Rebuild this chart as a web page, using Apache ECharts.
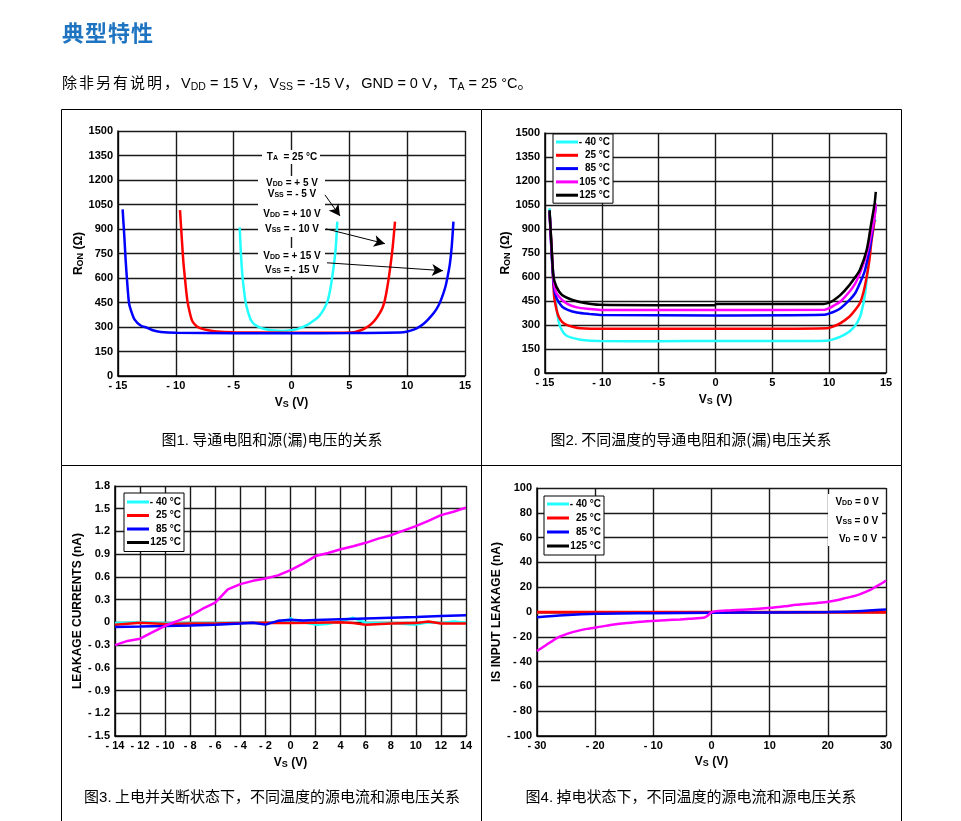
<!DOCTYPE html>
<html><head><meta charset="utf-8">
<script src="https://cdn.jsdelivr.net/npm/echarts@6/dist/echarts.min.js"></script>
<style>
html,body{margin:0;padding:0;background:#fff;}
#chart{position:absolute;left:0;top:0;width:961px;height:821px;}
.t{position:absolute;white-space:nowrap;}
#title{left:62px;top:18px;font:bold 22px 'Noto Sans CJK SC';color:#1F74C2;letter-spacing:1px;line-height:26px;}
#sub{left:62px;top:71px;font:15px 'Noto Sans CJK SC';color:#000;line-height:22px;letter-spacing:2px;}
#sub .l{font-family:'Liberation Sans',Arial,sans-serif;font-size:14.5px;letter-spacing:0;}
#sub sub{font-size:10.5px;vertical-align:-2px;line-height:0;}
.cap{font:15px 'Noto Sans CJK SC';font-weight:400;color:#000;line-height:20px;transform:translateX(-50%);}
.cap .l{font-family:'Liberation Sans Narrow','Liberation Sans',Arial,sans-serif;}
</style></head>
<body>
<div id="chart"></div>
<div class="t" id="title">典型特性</div>
<div class="t" id="sub">除非另有说明，<span class="l">V<sub>DD</sub> = 15 V</span>，<span class="l">V<sub>SS</sub> = -15 V</span>，<span class="l">GND = 0 V</span>，<span class="l">T<sub>A</sub> = 25 °C</span>。</div>
<div class="t cap" style="left:272px;top:429px;">图<span class="l">1.</span> 导通电阻和源(漏)电压的关系</div>
<div class="t cap" style="left:691px;top:429px;">图<span class="l">2.</span> 不同温度的导通电阻和源(漏)电压关系</div>
<div class="t cap" style="left:272px;top:786px;">图<span class="l">3.</span> 上电并关断状态下，不同温度的源电流和源电压关系</div>
<div class="t cap" style="left:691px;top:786px;">图<span class="l">4.</span> 掉电状态下，不同温度的源电流和源电压关系</div>
<script>
// ---------- Figure 1: RON vs VS at TA = 25 °C ----------
const fig1Supply5 = [[-4.48,910],[-4.38,760],[-4.25,620],[-4.1,520],[-3.96,450],[-3.75,390],[-3.53,345],[-3.2,315],[-2.67,295],[-2,283],[-1.5,278],[-0.8,275],[0,280],[0.6,290],[1.37,313],[1.9,338],[2.37,365],[2.8,410],[3.1,455],[3.35,530],[3.53,610],[3.7,700],[3.82,780],[3.96,945]];
const fig1Supply10 = [[-9.64,1016],[-9.5,860],[-9.35,700],[-9.2,590],[-9.0,460],[-8.8,390],[-8.57,335],[-8.2,305],[-7.85,292],[-7.2,280],[-6.5,273],[-5,268],[0,265],[4,265],[5.4,268],[6.0,280],[6.55,300],[7.0,325],[7.4,360],[7.75,400],[8.0,445],[8.2,510],[8.43,610],[8.6,700],[8.75,790],[8.95,945]];
const fig1Supply15 = [[-14.6,1020],[-14.45,850],[-14.34,711],[-14.2,569],[-14.05,447],[-13.9,406],[-13.56,345],[-13.04,309],[-12.46,295],[-12,280],[-11.3,270],[-10,265],[-5,262],[0,262],[5,263],[9.7,268],[10.3,278],[10.9,295],[11.4,318],[11.8,345],[12.3,385],[12.7,430],[13.0,480],[13.3,545],[13.5,610],[13.7,690],[13.85,790],[14.0,945]];
const fig1Arrows = [[[2.89,1109],[4.19,980]],[[2.98,901],[8.08,810]],[[3.07,693],[13.1,645]]];

// ---------- Figure 2: RON vs VS at several temperatures ----------
const fig2TempNames = ['- 40 °C','25 °C','85 °C','105 °C','125 °C'];
const fig2M40 = [[-14.6,1030],[-14.45,820],[-14.3,640],[-14.1,480],[-13.9,360],[-13.7,295],[-13.4,255],[-13.1,233],[-12.5,218],[-11.9,208],[-10.2,200],[-5,199],[0,200],[5,200],[9.8,202],[10.4,212],[11,228],[11.6,250],[12.1,280],[12.5,320],[12.8,370],[13.15,490],[13.45,690],[13.7,850],[13.9,930],[14.1,960]];
const fig2T25 = [[-14.6,1010],[-14.4,760],[-14.2,480],[-14.0,400],[-13.8,353],[-13.5,320],[-13.1,301],[-12.5,288],[-11.9,280],[-10,276],[0,276],[9.8,280],[10.4,292],[11,312],[11.8,353],[12.3,395],[12.7,436],[13.0,500],[13.3,600],[13.55,710],[13.7,810],[14.0,956]];
const fig2T85 = [[-14.6,1010],[-14.4,720],[-14.2,530],[-14.0,470],[-13.5,415],[-13,395],[-12.2,378],[-11,368],[-10,362],[0,360],[9.6,364],[10,372],[10.5,385],[11,405],[11.8,457],[12.3,500],[12.7,561],[13.1,630],[13.3,686],[13.6,790],[13.9,935],[14.1,1040]];
const fig2T105 = [[-14.6,1010],[-14.4,740],[-14.2,560],[-14.0,500],[-13.5,457],[-13,430],[-12.2,410],[-11,400],[-10,394],[0,393],[9.6,396],[10,405],[10.5,425],[11,447],[11.8,509],[12.3,560],[12.7,623],[13.1,700],[13.4,769],[13.7,870],[14.0,980],[14.1,1060]];
const fig2T125 = [[-14.6,1018],[-14.4,760],[-14.25,602],[-14.0,540],[-13.5,488],[-12.5,455],[-11.5,437],[-10.2,426],[-5,424],[-0.05,424],[0.05,432],[5,432],[9.5,432],[10,440],[10.4,455],[11,488],[11.8,551],[12.3,600],[12.7,644],[13.3,769],[13.7,935],[14.0,1060],[14.1,1132]];

// ---------- Figure 3: leakage, powered & off ----------
const fig34TempNames = ['- 40 °C','25 °C','85 °C','125 °C'];
const fig3M40 = [[-14,-0.01],[-12,0],[-10,-0.01],[-8,-0.01],[-6,-0.01],[-4,-0.01],[-2,-0.01],[-0.1,0.02],[0,0.06],[0.2,0.03],[1,0],[2,-0.03],[3,-0.02],[4,0.01],[5,0.06],[6,-0.005],[8,-0.01],[10,-0.03],[11,0],[12,-0.01],[13,0.01],[14,-0.005]];
const fig3T25 = [[-14,-0.03],[-12,-0.005],[-10,-0.02],[-8,-0.015],[-6,-0.015],[-4,-0.01],[-2,-0.005],[0,-0.01],[2,-0.005],[4,0],[5,-0.01],[6,-0.03],[8,-0.015],[10,-0.01],[11,0.01],[12,-0.015],[14,-0.015]];
const fig3T85 = [[-14,-0.06],[-12,-0.055],[-10,-0.048],[-8,-0.04],[-6,-0.03],[-4,-0.015],[-3,-0.005],[-2,-0.03],[-1,0.02],[0,0.035],[0.1,0.015],[1,0.025],[2,0.03],[4,0.04],[6,0.05],[8,0.06],[10,0.07],[12,0.085],[14,0.095]];
const fig3T125 = [[-14,-0.3],[-13,-0.245],[-12,-0.215],[-11,-0.13],[-10,-0.045],[-9,0.02],[-8,0.085],[-7,0.18],[-6,0.26],[-5,0.435],[-4,0.505],[-3,0.548],[-2,0.578],[-1,0.62],[0,0.69],[0.1,0.67],[1,0.775],[2,0.875],[3,0.915],[4,0.965],[5,1.005],[6,1.05],[7,1.105],[8,1.15],[9,1.21],[10,1.27],[11,1.34],[12,1.415],[13,1.46],[14,1.515]];

// ---------- Figure 4: leakage, unpowered ----------
const fig4M40 = [[-30,-0.5],[0,-0.3],[30,0]];
const fig4T25 = [[-30,-0.2],[0,-0.2],[30,-0.2]];
const fig4T85 = [[-30,-4.2],[-25.4,-2.6],[-19.7,-1.5],[-10,-1.0],[0,-0.6],[10,-0.4],[20,0],[25,0.6],[30,2.0]];
const fig4T125 = [[-30,-31.5],[-29.2,-29],[-28.3,-26.2],[-27.4,-23.5],[-26.6,-21],[-25.5,-18.8],[-24.3,-16.8],[-23,-15.2],[-21.4,-13.6],[-19,-11.8],[-16.8,-10.1],[-14,-8.7],[-11.1,-7.4],[-8,-6.6],[-5.4,-6],[-3,-5.2],[-1.4,-4.7],[-0.8,-3.4],[0,-0.3],[0.9,0.7],[3,1.3],[6.1,2],[10.1,3.4],[12.5,4.6],[14.6,5.8],[17,6.8],[19.8,8],[21.5,9.4],[23.2,11.4],[24.8,13.2],[26.1,15.4],[27.3,17.8],[28.4,20.8],[29.3,23.2],[30,25.4]];

// ---------- styling ----------
const FONT = "'Liberation Sans Narrow','Liberation Sans',Arial,sans-serif";
const C = {m40:'#22FFFF', t25:'#FF0000', t85:'#0000FF', t105:'#FF00FF', t125:'#000000'};
const fmt = v => { v = Math.round(v*10)/10; return v < 0 ? '- ' + Math.abs(v) : String(v); };

function nameRich(){
  return {fontSize:12, fontWeight:'bold', fontFamily:FONT, color:'#000',
    rich:{a:{fontSize:12,fontWeight:'bold',fontFamily:FONT,color:'#000'},
          b:{fontSize:9,fontWeight:'bold',fontFamily:FONT,color:'#000',padding:[3,0,0,0]}}};
}
function axis(gi, isX, min, max, interval, name, nameGap, margin){
  return {type:'value', gridIndex:gi, min, max, interval, name, nameLocation:'middle', nameGap,
    nameTextStyle:nameRich(),
    axisLine:{show:true,onZero:false,lineStyle:{color:'#000',width:1.5}},
    axisTick:{show:false},
    splitLine:{show:true,lineStyle:{color:'#1a1a1a',width:1.4}},
    axisLabel:{formatter:fmt, margin, fontSize:11, fontWeight:'bold', fontFamily:FONT, color:'#000',
      padding: isX ? 0 : [0,0,5,0]}
  };
}
function line(name, data, color, xi, smooth, extra){
  return Object.assign({type:'line', name, data, xAxisIndex:xi, yAxisIndex:xi, showSymbol:false, symbol:'none',
    smooth: smooth ? 0.3 : false,
    lineStyle:{color, width:2.5}, itemStyle:{color}, animation:false, z:2}, extra||{});
}
function legend(data, left, top, gap, pad){
  return {data, left, top, orient:'vertical', backgroundColor:'#fff', borderColor:'#000', borderWidth:1,
    padding:pad, itemGap:gap, itemWidth:22, itemHeight:3, icon:'rect', selectedMode:false,
    formatter: n => '{r|' + n + '}',
    textStyle:{fontSize:10, fontWeight:'bold', fontFamily:FONT, color:'#000', lineHeight:12,
      rich:{r:{width:27, align:'right', fontSize:10, fontWeight:'bold', fontFamily:FONT, color:'#000'}}}};
}

const annRich = {n:{fontSize:10,fontWeight:'bold',fontFamily:FONT,fill:'#000'},
                 s:{fontSize:7,fontWeight:'bold',fontFamily:FONT,fill:'#000',padding:[3,0,0,0]}};
function ann(x, y, text){
  return {type:'text', x, y, z:6, silent:true,
    style:{text, rich:annRich, align:'center', verticalAlign:'middle', fill:'#000',
      font:"bold 10px " + FONT}};
}
function wrect(x, y, w, h){
  return {type:'rect', z:1, silent:true, shape:{x, y, width:w, height:h}, style:{fill:'#fff'}};
}
function bline(x1, y1, x2, y2){
  return {type:'line', z:10, silent:true, shape:{x1,y1,x2,y2}, style:{stroke:'#000', lineWidth:1}};
}

const VS = '{a|V}{b|S} (V)';
const option = {
  animation:false,
  grid:[
    {left:118, top:131, width:347, height:245},
    {left:545, top:133, width:341, height:240},
    {left:115, top:486, width:351, height:250},
    {left:537, top:488, width:349, height:248}
  ],
  xAxis:[
    axis(0,true,-15,15,5,VS,21,4),
    axis(1,true,-15,15,5,VS,21,4),
    axis(2,true,-14,14,2,VS,21,4),
    axis(3,true,-30,30,10,VS,20,4)
  ],
  yAxis:[
    axis(0,false,0,1500,150,'{a|R}{b|ON} (Ω)',26,5),
    axis(1,false,0,1500,150,'{a|R}{b|ON} (Ω)',27,5),
    axis(2,false,-1.5,1.8,0.3,'LEAKAGE CURRENTS (nA)',28,5),
    axis(3,false,-100,100,20,'IS INPUT LEAKAGE (nA)',30,5)
  ],
  legend:[
    legend(fig2TempNames, 553, 134, 1.3, [2,3,2,3]),
    legend(fig34TempNames, 124, 493, 1.5, [3,3,3,3]),
    legend(fig34TempNames, 544, 496, 2, [2,3,3,3])
  ],
  series:[
    line('±5 V', fig1Supply5, '#22FFFF', 0, true),
    line('±10 V', fig1Supply10, C.t25, 0, true),
    line('±15 V', fig1Supply15, C.t85, 0, true, {
      markLine:{silent:true, animation:false, symbol:['none','arrow'], symbolSize:[9,11],
        label:{show:false}, lineStyle:{color:'#000', width:1, type:'solid'},
        emphasis:{disabled:true},
        data: fig1Arrows.map(a => [{coord:a[0]},{coord:a[1]}])}
    }),
    line(fig2TempNames[0], fig2M40, C.m40, 1, true),
    line(fig2TempNames[1], fig2T25, C.t25, 1, true),
    line(fig2TempNames[2], fig2T85, C.t85, 1, true),
    line(fig2TempNames[3], fig2T105, C.t105, 1, true),
    line(fig2TempNames[4], fig2T125, C.t125, 1, true),
    line(fig34TempNames[0], fig3M40, C.m40, 2, false),
    line(fig34TempNames[1], fig3T25, C.t25, 2, false),
    line(fig34TempNames[2], fig3T85, C.t85, 2, false),
    line(fig34TempNames[3], fig3T125, C.t105, 2, false),
    line(fig34TempNames[0], fig4M40, C.m40, 3, true),
    line(fig34TempNames[1], fig4T25, C.t25, 3, true, {lineStyle:{color:C.t25,width:3}}),
    line(fig34TempNames[2], fig4T85, C.t85, 3, true),
    line(fig34TempNames[3], fig4T125, C.t105, 3, true)
  ],
  graphic:[
    bline(61.5,109.5,901.5,109.5),
    bline(61.5,109.5,61.5,821),
    bline(481.5,109.5,481.5,821),
    bline(901.5,109.5,901.5,821),
    bline(61.5,465.5,901.5,465.5),
    wrect(262,150,58,14),
    wrect(258,176,67,61),
    wrect(258,248,67,28),
    ann(292,157,'{n|T}{s|A}{n|  = 25 °C}'),
    ann(292,183,'{n|V}{s|DD}{n| = + 5 V}'),
    ann(292,194,'{n|V}{s|SS}{n| = - 5 V}'),
    ann(292,214,'{n|V}{s|DD}{n| = + 10 V}'),
    ann(292,229,'{n|V}{s|SS}{n| = - 10 V}'),
    ann(292,256,'{n|V}{s|DD}{n| = + 15 V}'),
    ann(292,270,'{n|V}{s|SS}{n| = - 15 V}'),
    wrect(828,494,54,52),
    ann(857,502,'{n|V}{s|DD}{n| = 0 V}'),
    ann(857,521,'{n|V}{s|SS}{n| = 0 V}'),
    ann(858,539,'{n|V}{s|D}{n| = 0 V}')
  ]
};
const chart = echarts.init(document.getElementById('chart'), null, {renderer:'canvas'});
chart.setOption(option);
</script>
</body></html>
